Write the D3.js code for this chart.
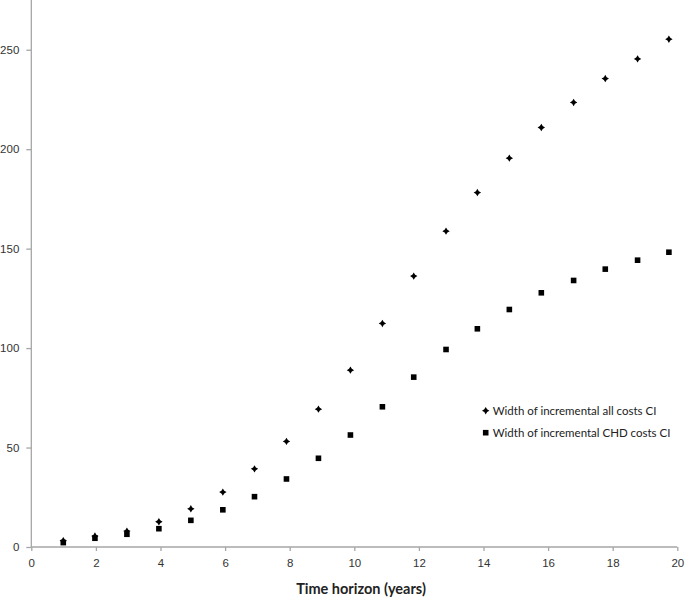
<!DOCTYPE html>
<html>
<head>
<meta charset="utf-8">
<script src="https://cdn.jsdelivr.net/npm/d3@7"></script>
<style>
  body { margin: 0; background: #fff; }
  svg { display: block; font-family: Lato, "Open Sans", sans-serif; }
  .axis path, .axis line { stroke: #a6a6a6; stroke-width: 1.3; }
  .axis text { fill: #333; font-size: 11.5px; }
</style>
</head>
<body>
<svg id="chart" width="685" height="599"></svg>
<script>
// time horizon (years) - as plotted, points sit slightly left of the integer ticks
var years = [0.99, 1.97, 2.96, 3.95, 4.94, 5.93, 6.91, 7.90, 8.89, 9.88,
             10.87, 11.84, 12.84, 13.81, 14.80, 15.79, 16.79, 17.77, 18.77, 19.74];
// width of incremental all costs CI
var allCosts = [3.2, 5.5, 8.0, 12.7, 19.2, 27.6, 39.3, 53.1, 69.3, 88.9,
                112.4, 136.2, 158.8, 178.2, 195.5, 210.9, 223.5, 235.5, 245.4, 255.3];
// width of incremental CHD costs CI
var chdCosts = [2.2, 4.4, 6.4, 9.2, 13.4, 18.7, 25.3, 34.2, 44.6, 56.3,
                70.5, 85.4, 99.3, 109.7, 119.4, 127.8, 134.0, 139.7, 144.2, 148.2];
var xTicks = [0, 2, 4, 6, 8, 10, 12, 14, 16, 18, 20];
var yTicks = [0, 50, 100, 150, 200, 250];
var seriesNames = ['Width of incremental all costs CI', 'Width of incremental CHD costs CI'];

var svg = d3.select('#chart');

var x = d3.scaleLinear().domain([0, 20]).range([31.3, 677.3]);
var y = d3.scaleLinear().domain([0, 275]).range([547, 0]);

// axes
var yAxis = d3.axisLeft(y).tickValues(yTicks).tickSize(5).tickPadding(7);
svg.append('g').attr('class', 'axis')
    .attr('transform', 'translate(' + x(0) + ',0)')
    .call(yAxis)
    .call(function(g){ g.select('.domain').attr('d', 'M0,' + y(275) + 'V' + y(0)); });

var xAxis = d3.axisBottom(x).tickValues(xTicks).tickSize(4).tickPadding(8);
svg.append('g').attr('class', 'axis')
    .attr('transform', 'translate(0,' + y(0) + ')')
    .call(xAxis)
    .call(function(g){ g.select('.domain').attr('d', 'M' + x(0) + ',0H' + x(20)); });

svg.append('text')
    .attr('x', 361).attr('y', 594)
    .attr('text-anchor', 'middle')
    .style('font-weight', 'bold').style('font-size', '14.5px').style('fill', '#222')
    .text('Time horizon (years)');

// marker shapes
var star = 'M0,-3.7L1.4,-1.4L3.7,0L1.4,1.4L0,3.7L-1.4,1.4L-3.7,0L-1.4,-1.4Z';
var square = 'M-2.8,-2.8H2.8V2.8H-2.8Z';

var allData = years.map(function(d, i){ return {x: d, y: allCosts[i]}; });
var chdData = years.map(function(d, i){ return {x: d, y: chdCosts[i]}; });

svg.append('g').selectAll('path').data(chdData).enter().append('path')
    .attr('d', square)
    .attr('transform', function(d){ return 'translate(' + x(d.x) + ',' + y(d.y) + ')'; })
    .attr('fill', '#000');

svg.append('g').selectAll('path').data(allData).enter().append('path')
    .attr('d', star)
    .attr('transform', function(d){ return 'translate(' + x(d.x) + ',' + y(d.y) + ')'; })
    .attr('fill', '#000');

// legend
var legend = svg.append('g').attr('transform', 'translate(485.7,410.7)');
[star, square].forEach(function(shape, i){
    legend.append('path').attr('d', shape)
        .attr('transform', 'translate(0,' + (i * 22) + ')')
        .attr('fill', '#000');
    legend.append('text')
        .attr('x', 7).attr('y', i * 22 + 4)
        .style('font-size', '11.5px').style('fill', '#222')
        .text(seriesNames[i]);
});
</script>
</body>
</html>
